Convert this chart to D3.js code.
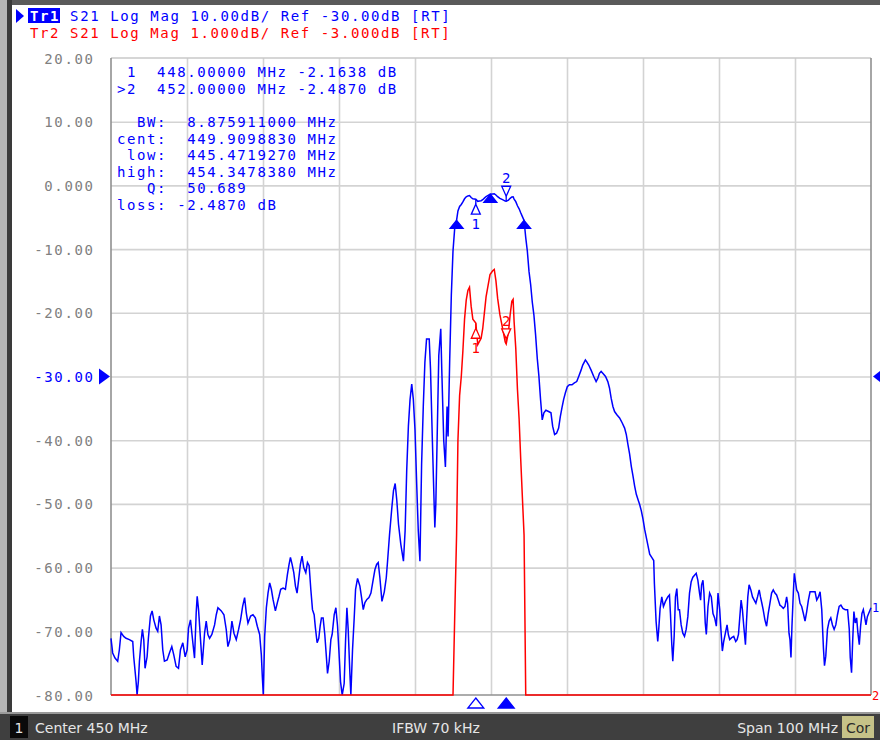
<!DOCTYPE html>
<html><head><meta charset="utf-8">
<script src="https://cdn.jsdelivr.net/npm/d3@7"></script>
<style>
html,body{margin:0;padding:0;background:#fff;}
svg{display:block;}
.mono{font-family:"DejaVu Sans Mono",monospace;font-size:14px;letter-spacing:1.6px;white-space:pre;}
.stat{font-family:"DejaVu Sans",sans-serif;font-size:14px;white-space:pre;}
</style></head><body>
<svg id="c" width="880" height="740"></svg>
<script>
// ---- data (S21, MHz / dB) ----
const freqMHz = [
400.00,400.22,400.53,400.88,401.10,401.32,401.67,401.98,402.42,402.86,402.99,403.30,403.43,403.60,403.74,403.96,
404.13,404.31,404.48,404.75,404.92,405.19,405.41,405.63,405.93,406.15,406.37,406.59,406.81,407.03,407.39,407.69,
408.00,408.26,408.57,408.88,409.14,409.45,409.76,410.02,410.20,410.46,410.77,410.99,411.21,411.34,411.52,411.78,
412.00,412.31,412.53,412.75,412.97,413.27,413.63,413.85,414.07,414.51,414.86,415.16,415.38,415.65,415.91,416.18,
416.48,416.79,417.05,417.32,417.58,417.80,418.02,418.37,418.68,418.99,419.25,419.56,419.78,419.91,420.04,420.22,
420.44,420.66,420.88,421.10,421.32,421.63,421.89,422.11,422.33,422.64,422.95,423.21,423.43,423.61,423.83,424.05,
424.27,424.48,424.70,424.92,425.14,425.36,425.63,425.85,426.07,426.29,426.51,426.73,426.90,427.12,427.34,427.52,
427.69,427.91,428.13,428.35,428.49,428.71,428.93,429.10,429.37,429.59,429.81,429.98,430.20,430.42,430.68,430.86,
431.04,431.21,431.43,431.56,431.78,432.00,432.18,432.44,432.75,432.97,433.19,433.41,433.67,433.94,434.20,434.51,
434.73,434.95,435.16,435.38,435.65,435.96,436.22,436.39,436.65,436.96,437.17,437.39,437.61,437.83,438.13,438.48,
438.70,438.91,439.13,439.35,439.57,439.78,440.00,440.22,440.43,440.65,440.87,441.09,441.30,441.52,441.87,442.04,
442.26,442.48,442.61,442.74,442.91,443.13,443.39,443.52,443.78,444.00,444.22,444.35,444.57,444.78,445.00,445.22,
445.47,445.65,445.87,446.09,446.30,446.52,446.74,446.96,447.17,447.39,447.61,448.00,448.26,448.48,448.70,448.91,
449.13,449.35,449.57,449.87,450.22,450.43,450.65,450.87,451.17,451.52,451.87,452.00,452.30,452.52,452.74,452.91,
453.04,453.26,453.48,453.70,453.91,454.13,454.35,454.57,454.78,455.00,455.22,455.43,455.65,455.87,456.09,456.30,
456.52,456.74,456.96,457.22,457.58,457.89,458.11,458.37,458.63,458.90,459.12,459.34,459.56,459.78,460.04,460.31,
460.66,460.97,461.28,461.54,461.85,462.07,462.29,462.42,462.60,462.86,463.17,463.52,463.83,464.05,464.27,464.49,
464.71,465.07,465.37,465.59,465.81,466.04,466.26,466.56,466.92,467.27,467.58,467.80,468.02,468.24,468.46,468.68,
468.90,469.12,469.34,469.56,469.78,470.00,470.22,470.44,470.66,470.88,471.15,471.41,471.50,471.72,471.94,472.07,
472.25,472.47,472.69,472.95,473.26,473.48,473.61,473.79,473.92,474.10,474.27,474.45,474.63,474.80,475.02,475.24,
475.46,475.68,475.90,476.12,476.34,476.56,476.78,477.00,477.22,477.44,477.58,477.71,477.89,478.02,478.19,478.33,
478.55,478.77,478.99,479.21,479.43,479.65,479.87,480.09,480.31,480.44,480.62,480.84,481.06,481.23,481.41,481.67,
481.94,482.20,482.38,482.56,482.73,482.91,483.08,483.26,483.48,483.61,483.79,483.96,484.19,484.41,484.63,484.85,
485.07,485.29,485.46,485.64,485.81,486.04,486.26,486.48,486.70,486.92,487.14,487.36,487.58,487.80,488.02,488.24,
488.46,488.68,488.90,489.03,489.21,489.34,489.47,489.60,489.78,489.91,490.04,490.22,490.44,490.66,490.88,491.10,
491.32,491.54,491.76,491.98,492.42,492.64,492.86,493.08,493.30,493.52,493.74,493.88,494.05,494.27,494.49,494.71,
494.93,495.15,495.37,495.59,495.81,496.04,496.30,496.61,496.92,497.14,497.27,497.44,497.58,497.75,497.93,498.11,
498.28,498.46,498.63,498.81,498.99,499.16,499.34,499.52,499.69,500.00];
const s21dB = [
-71.1,-73.4,-74.2,-74.7,-72.9,-70.2,-70.8,-71.1,-71.3,-71.6,-74.0,-77.9,-82.0,-77.9,-74.7,-71.6,
-69.7,-71.3,-75.8,-74.0,-71.1,-67.6,-66.8,-68.2,-69.5,-70.0,-67.6,-69.0,-72.9,-74.7,-74.5,-73.4,
-72.4,-73.7,-75.5,-75.8,-72.9,-71.8,-74.0,-72.9,-69.5,-68.2,-71.8,-74.2,-67.1,-64.5,-66.6,-71.3,
-75.3,-70.3,-68.4,-70.5,-71.1,-70.5,-69.0,-67.4,-66.3,-66.8,-67.4,-69.7,-72.4,-71.3,-68.4,-70.3,
-71.3,-69.7,-68.2,-66.1,-64.7,-67.1,-68.7,-67.6,-67.4,-67.9,-69.2,-70.5,-73.7,-77.1,-82.0,-70.8,
-66.3,-64.0,-62.4,-63.4,-65.0,-66.8,-65.5,-64.5,-63.4,-63.2,-63.4,-61.1,-59.5,-58.4,-59.5,-60.8,
-62.9,-64.0,-61.8,-59.5,-58.2,-60.0,-60.8,-59.2,-59.7,-63.4,-66.6,-67.4,-69.5,-71.8,-71.1,-69.2,
-67.9,-67.9,-70.5,-74.2,-76.6,-74.7,-71.3,-70.5,-67.4,-66.3,-69.2,-72.9,-77.9,-82.0,-78.2,-71.6,
-66.3,-69.7,-76.6,-82.0,-72.9,-67.9,-63.4,-61.7,-62.9,-64.7,-66.6,-65.5,-65.0,-64.7,-64.0,-61.8,
-60.3,-59.5,-59.2,-61.6,-65.3,-63.8,-61.6,-59.0,-54.8,-50.5,-47.9,-46.8,-49.5,-53.2,-56.3,-59.0,
-54.2,-44.7,-37.8,-33.6,-31.2,-33.6,-38.4,-46.8,-54.2,-59.0,-43.7,-34.7,-27.8,-24.1,-24.1,-28.8,
-38.9,-48.4,-53.7,-50.0,-39.9,-26.7,-22.5,-28.8,-40.0,-44.2,-34.7,-39.4,-27.2,-17.2,-10.3,-6.8,
-5.49,-4.0,-3.3,-3.0,-2.6,-2.1,-1.8,-1.65,-1.6,-1.9,-2.1,-2.16,-2.5,-2.45,-2.4,-2.25,
-2.0,-1.75,-1.6,-1.4,-1.34,-1.32,-1.5,-1.77,-2.03,-2.24,-2.46,-2.49,-2.3,-2.03,-1.82,-1.79,
-2.14,-2.56,-3.2,-3.67,-4.3,-4.9,-5.49,-8.2,-10.3,-13.5,-15.6,-18.3,-20.4,-23.5,-27.2,-29.9,
-33.6,-36.8,-35.7,-35.3,-35.5,-35.7,-37.8,-39.1,-38.9,-38.1,-36.3,-34.9,-33.6,-32.6,-31.6,-31.3,
-31.3,-31.0,-30.8,-30.0,-29.0,-28.2,-27.7,-27.4,-27.7,-28.2,-29.0,-30.0,-30.8,-30.3,-29.5,-29.2,
-29.5,-30.0,-30.8,-31.8,-33.4,-34.7,-35.5,-36.0,-36.5,-37.3,-38.1,-39.1,-40.7,-42.2,-44.1,-45.6,
-47.2,-48.5,-49.3,-50.1,-51.1,-52.4,-54.0,-55.3,-56.6,-57.9,-58.4,-58.9,-62.5,-68.4,-71.6,-69.7,
-66.4,-64.6,-66.1,-65.3,-64.6,-64.3,-67.2,-72.1,-74.7,-70.8,-64.6,-63.3,-66.6,-66.6,-69.0,-70.3,
-70.8,-69.7,-67.7,-64.0,-62.2,-61.5,-61.2,-60.9,-62.0,-64.0,-65.1,-62.7,-62.0,-64.0,-68.7,-70.5,
-66.1,-64.0,-64.6,-67.2,-67.9,-69.2,-64.0,-66.6,-70.8,-73.1,-71.6,-70.3,-69.0,-70.5,-71.3,-71.0,
-70.8,-71.6,-71.3,-70.5,-67.9,-65.1,-66.6,-69.2,-72.1,-68.7,-64.6,-62.7,-63.5,-64.6,-65.1,-65.6,
-64.6,-63.5,-64.6,-65.6,-66.6,-68.2,-69.2,-67.2,-65.6,-64.0,-63.5,-64.0,-64.3,-65.1,-65.9,-66.1,
-66.4,-66.1,-64.6,-65.6,-70.3,-71.3,-74.1,-69.2,-64.0,-60.9,-62.0,-63.5,-64.0,-65.6,-66.1,-67.2,
-68.4,-66.9,-65.1,-63.8,-63.8,-63.8,-65.1,-64.6,-63.8,-66.6,-72.6,-75.4,-73.9,-69.7,-68.4,-67.9,
-69.0,-69.7,-69.0,-67.4,-66.1,-65.9,-66.4,-66.6,-66.6,-69.7,-74.1,-76.5,-71.8,-66.9,-68.7,-67.9,
-70.3,-72.1,-69.2,-67.2,-66.6,-67.7,-69.0,-67.7,-67.2,-66.3];

const yTickValues = [20,10,0,-10,-20,-30,-40,-50,-60,-70,-80];
const yTickLabels = ["20.00","10.00","0.000","-10.00","-20.00","-30.00","-40.00","-50.00","-60.00","-70.00","-80.00"];
const xTickValues = [400,410,420,430,440,450,460,470,480,490,500];
const tr1Scale = {ref:-30, perDiv:10};
const tr2Scale = {ref:-3, perDiv:1};
const headerTr1 = ["Tr1"," S21 Log Mag 10.00dB/ Ref -30.00dB [RT]"];
const headerTr2 = "Tr2 S21 Log Mag 1.000dB/ Ref -3.000dB [RT]";
const markerLines = [" 1  448.00000 MHz -2.1638 dB",">2  452.00000 MHz -2.4870 dB"];
const bwLines = ["  BW:  8.875911000 MHz","cent:  449.9098830 MHz"," low:  445.4719270 MHz","high:  454.3478380 MHz","   Q:  50.689","loss: -2.4870 dB"];
const markerFreqs = [448, 452];
const markerVals = [-2.1638, -2.4870];
const bwFreqs = [445.471927, 454.347838];
const bwLevel = -5.487;
const centFreq = 449.909883;
const statusTexts = ["Center 450 MHz","IFBW 70 kHz","Span 100 MHz"];

// ---- drawing ----
const svg = d3.select("#c");
const L=111, R=871, T=58, B=695;
const BLUE="#0000ff", RED="#ff0000";
const x = d3.scaleLinear().domain([400,500]).range([L,R]);
const yBlue = d3.scaleLinear().domain([tr1Scale.ref-5*tr1Scale.perDiv, tr1Scale.ref+5*tr1Scale.perDiv]).range([B,T]).clamp(true);
const yRed = d3.scaleLinear().domain([tr2Scale.ref-5*tr2Scale.perDiv, tr2Scale.ref+5*tr2Scale.perDiv]).range([B,T]).clamp(true);
const data = freqMHz.map((f,i)=>({f, v:s21dB[i]}));
const interp = f => { const i = d3.bisector(d=>d.f).left(data,f); if(i<=0) return data[0].v; if(i>=data.length) return data[data.length-1].v;
  const a=data[i-1], b=data[i]; return a.v+(b.v-a.v)*(f-a.f)/(b.f-a.f); };

// frame decorations
svg.append("rect").attr("x",0).attr("y",0).attr("width",880).attr("height",5).attr("fill","#5a5a5a");
svg.append("rect").attr("x",0).attr("y",0).attr("width",7).attr("height",714).attr("fill","#b4b4b4");
svg.append("rect").attr("x",7).attr("y",0).attr("width",5).attr("height",714).attr("fill","#3a3a3a");

// grid via axes
const gx = svg.append("g").attr("transform",`translate(0,${B})`)
  .call(d3.axisBottom(x).tickValues(xTickValues.slice(1,-1)).tickSize(-(B-T)).tickFormat(""));
gx.selectAll("line").attr("stroke","#d3d3d3").attr("stroke-width",1.6);
gx.select(".domain").remove();
const gy = svg.append("g").attr("transform",`translate(${L},0)`)
  .call(d3.axisLeft(yBlue).tickValues(yTickValues.slice(1,-1)).tickSize(-(R-L)).tickFormat(""));
gy.selectAll("line").attr("stroke","#d3d3d3").attr("stroke-width",1.6);
gy.select(".domain").remove();

// frame
svg.append("line").attr("x1",L).attr("x2",R).attr("y1",T).attr("y2",T).attr("stroke","#c8c8c8").attr("stroke-width",1.6);
svg.append("line").attr("x1",L).attr("x2",L).attr("y1",T).attr("y2",B).attr("stroke","#909090").attr("stroke-width",1.6);
svg.append("line").attr("x1",R).attr("x2",R).attr("y1",T).attr("y2",B).attr("stroke","#909090").attr("stroke-width",1.6);
svg.append("line").attr("x1",L).attr("x2",R).attr("y1",B).attr("y2",B).attr("stroke","#909090").attr("stroke-width",1.6);

// y tick labels via axis
const gl = svg.append("g").attr("transform",`translate(${L},0)`)
  .call(d3.axisLeft(yBlue).tickValues(yTickValues).tickSize(0).tickPadding(0).tickFormat((d,i)=>yTickLabels[i]));
gl.select(".domain").remove();
gl.selectAll("text").attr("class","mono").attr("x",-16.5).attr("dy","0.36em")
  .attr("fill",d=>d===tr1Scale.ref?BLUE:"#808080").style("font-family",'"DejaVu Sans Mono",monospace').style("font-size","14px");

// ref arrows
const yr = yBlue(tr1Scale.ref);
svg.append("path").attr("d",`M${L-12},${yr-8}L${L-1},${yr}L${L-12},${yr+8}Z`).attr("fill",BLUE);
svg.append("path").attr("d",`M${R+12},${yr-8}L${R+2},${yr}L${R+12},${yr+8}Z`).attr("fill",BLUE);

// traces
const lineB = d3.line().x(d=>x(d.f)).y(d=>yBlue(d.v));
const lineR = d3.line().x(d=>x(d.f)).y(d=>yRed(d.v));
svg.append("path").datum(data).attr("d",lineB).attr("fill","none").attr("stroke",BLUE).attr("stroke-width",1.5);
svg.append("path").datum(data).attr("d",lineR).attr("fill","none").attr("stroke",RED).attr("stroke-width",1.5);

// marker symbols
function triUp(g,cx,ty,w,h,col,filled){ g.append("path").attr("d",`M${cx},${ty}L${cx+w/2},${ty+h}L${cx-w/2},${ty+h}Z`)
  .attr("fill",filled?col:"#fff").attr("stroke",col).attr("stroke-width",1.3); }
function triDown(g,cx,ty,w,h,col,filled){ g.append("path").attr("d",`M${cx},${ty}L${cx+w/2},${ty-h}L${cx-w/2},${ty-h}Z`)
  .attr("fill",filled?col:"#fff").attr("stroke",col).attr("stroke-width",1.3); }
const mg = svg.append("g");
function markerSet(scale,col){
  const x1=x(markerFreqs[0]), y1=scale(markerVals[0]);
  mg.append("line").attr("x1",x1).attr("x2",x1).attr("y1",y1).attr("y2",y1+5).attr("stroke",col).attr("stroke-width",1.3);
  triUp(mg,x1,y1+5,9,10,col,false);
  mg.append("text").attr("class","mono").attr("x",x1+0.8).attr("y",y1+30).attr("text-anchor","middle").attr("fill",col).text("1");
  const x2=x(markerFreqs[1]), y2=scale(markerVals[1]);
  mg.append("line").attr("x1",x2).attr("x2",x2).attr("y1",y2).attr("y2",y2-5).attr("stroke",col).attr("stroke-width",1.3);
  triDown(mg,x2,y2-5,9,10,col,false);
  mg.append("text").attr("class","mono").attr("x",x2+0.8).attr("y",y2-18).attr("text-anchor","middle").attr("fill",col).text("2");
}
markerSet(yBlue,BLUE);
markerSet(yRed,RED);
bwFreqs.forEach(f=>triUp(mg,x(f),yBlue(bwLevel),13,8,BLUE,true));
triUp(mg,x(centFreq),yBlue(interp(centFreq)),13,8,BLUE,true);

// x-axis marker indicators
triUp(mg,x(markerFreqs[0]),698,16,10,BLUE,false);
triUp(mg,x(markerFreqs[1]),698,16,10,BLUE,true);

// trace end labels
svg.append("text").attr("x",R+1).attr("y",yBlue(data[data.length-1].v)+4).attr("fill",BLUE)
  .style("font-family",'"DejaVu Sans Mono",monospace').style("font-size","12px").text("1");
svg.append("text").attr("x",R+1).attr("y",B+5).attr("fill",RED)
  .style("font-family",'"DejaVu Sans Mono",monospace').style("font-size","12px").text("2");

// header
svg.append("path").attr("d","M16,9L24,16L16,23Z").attr("fill",BLUE);
svg.append("rect").attr("x",28).attr("y",8).attr("width",32).attr("height",15).attr("fill",BLUE);
const h1 = svg.append("text").attr("class","mono").attr("x",30).attr("y",21);
h1.append("tspan").attr("fill","#fff").style("font-weight","bold").text(headerTr1[0]);
h1.append("tspan").attr("fill",BLUE).text(headerTr1[1]);
svg.append("text").attr("class","mono").attr("x",30).attr("y",38).attr("fill",RED).text(headerTr2);

// marker readouts
markerLines.forEach((s,i)=>svg.append("text").attr("class","mono").attr("x",117).attr("y",77+i*16.6).attr("fill",BLUE).text(s));
bwLines.forEach((s,i)=>svg.append("text").attr("class","mono").attr("x",117).attr("y",127+i*16.6).attr("fill",BLUE).text(s));

// status bar
svg.append("rect").attr("x",0).attr("y",712).attr("width",880).attr("height",2).attr("fill","#9a9a9a");
svg.append("rect").attr("x",0).attr("y",714).attr("width",880).attr("height",26).attr("fill","#3f3f3f");
svg.append("rect").attr("x",10).attr("y",716).attr("width",18).attr("height",22).attr("fill","#0a0a0a");
svg.append("text").attr("class","stat").attr("x",19).attr("y",733).attr("text-anchor","middle").attr("fill","#e6e6e6").text("1");
svg.append("text").attr("class","stat").attr("x",35).attr("y",733).attr("fill","#e6e6e6").text(statusTexts[0]);
svg.append("text").attr("class","stat").attr("x",392).attr("y",733).attr("fill","#e6e6e6").text(statusTexts[1]);
svg.append("text").attr("class","stat").attr("x",838).attr("y",733).attr("text-anchor","end").attr("fill","#e6e6e6").text(statusTexts[2]);
svg.append("rect").attr("x",842).attr("y",716).attr("width",32).attr("height",22).attr("fill","#c6c288");
svg.append("text").attr("class","stat").attr("x",858).attr("y",733).attr("text-anchor","middle").attr("fill","#2a2a2a").text("Cor");
</script>
</body></html>
